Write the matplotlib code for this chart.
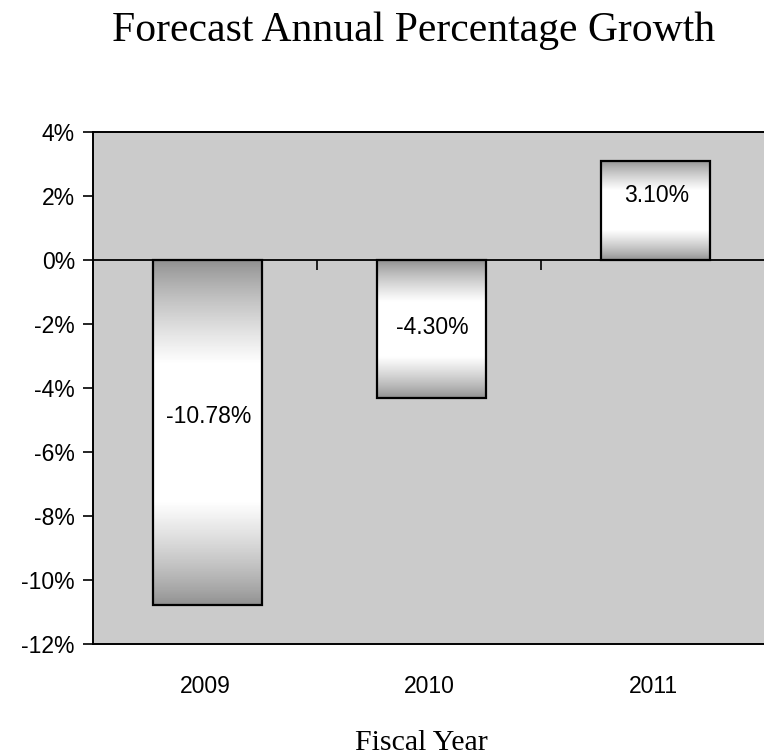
import numpy as np
import matplotlib
matplotlib.use("Agg")
import matplotlib.pyplot as plt
from matplotlib.ticker import FuncFormatter

years = ["2009", "2010", "2011"]
growth = [-10.78, -4.30, 3.10]
labels = ["-10.78%", "-4.30%", "3.10%"]
label_frac = [0.455, 0.49, 0.655]
yticks = [4, 2, 0, -2, -4, -6, -8, -10, -12]

W, H = 764, 755
fig = plt.figure(figsize=(W / 100, H / 100), dpi=100)
ax = fig.add_axes([93 / W, (H - 644) / H, 672 / W, 512 / H])

bg = "#cbcbcb"
ax.set_facecolor(bg)
x = np.arange(len(years))
bars = ax.bar(x + 0.01, growth, width=0.485, facecolor="none", edgecolor="black",
              linewidth=1.6, zorder=3)

# gradient fill clipped to each bar
t = np.linspace(0, 1, 256)
prof = np.clip(np.minimum(t / 0.3, (1 - t) / 0.3), 0, 1)
grad = (0.56 + 0.44 * prof ** 0.8)[:, None]
for b in bars:
    x0, y0 = b.get_x(), b.get_y()
    w, h = b.get_width(), b.get_height()
    ymin, ymax = min(y0, y0 + h), max(y0, y0 + h)
    im = ax.imshow(grad, cmap="gray", vmin=0, vmax=1, aspect="auto",
                   extent=(x0, x0 + w, ymin, ymax), origin="lower",
                   interpolation="bilinear", zorder=2)
    im.set_clip_path(b)

for xi, v, lab, fr in zip(x, growth, labels, label_frac):
    ax.text(xi + 0.015, v * fr, lab, ha="center", va="center", fontsize=16.5,
            family="Liberation Sans", zorder=4)

ax.set_xlim(-0.5, len(years) - 0.5)
ax.set_ylim(-12, 4)
ax.set_yticks(yticks)
ax.yaxis.set_major_formatter(FuncFormatter(lambda v, p: f"{v:.0f}%"))
ax.set_xticks(x)
ax.set_xticklabels(years)
ax.tick_params(axis="y", direction="out", length=7, width=1.2, pad=6,
               labelsize=16.5)
ax.tick_params(axis="x", length=0, pad=22, labelsize=16.5)
for lab in ax.get_xticklabels() + ax.get_yticklabels():
    lab.set_family("Liberation Sans")
for s in ax.spines.values():
    s.set_linewidth(1.4)
    s.set_color("black")

# zero line axis with category boundary ticks
sec = ax.secondary_xaxis(0, transform=ax.transData)
sec.set_xticks(x[:-1] + 0.5)
sec.tick_params(direction="out", length=7, width=1.2, labelbottom=False,
                labeltop=False)
for s in sec.spines.values():
    s.set_linewidth(1.3)

fig.text(414 / W, (H - 41) / H, "Forecast Annual Percentage Growth",
         ha="center", va="baseline", fontsize=30, family="Liberation Serif")
fig.text(421 / W, (H - 750) / H, "Fiscal Year", ha="center", va="baseline",
         fontsize=21.5, family="Liberation Serif")

fig.savefig("out.png", dpi=100, facecolor="white")
